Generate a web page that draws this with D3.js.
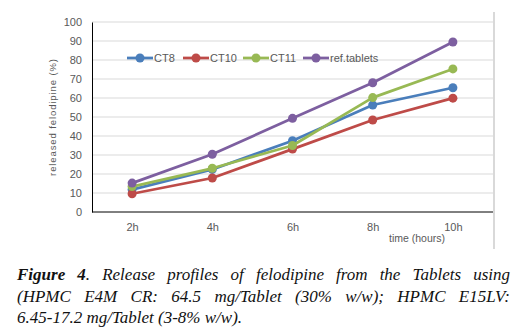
<!DOCTYPE html>
<html>
<head>
<meta charset="utf-8">
<script src="https://cdn.jsdelivr.net/npm/d3@7"></script>
<style>
  body { margin: 0; background: #fff; }
  #wrap { position: relative; width: 519px; height: 331px; }
  #caption {
    position: absolute; left: 17px; top: 264px; width: 493px;
    font-family: "Liberation Serif", "DejaVu Serif", serif;
    font-style: italic; font-size: 17px; line-height: 21.5px;
    color: #111;
  }
  #caption div { text-align: justify; text-align-last: justify; white-space: nowrap; }
  #caption div.last { text-align-last: left; }
</style>
</head>
<body>
<div id="wrap">
  <div id="chart"></div>
  <div id="caption">
    <div><b>Figure 4</b>. Release profiles of felodipine from the Tablets using</div>
    <div>(HPMC E4M CR: 64.5 mg/Tablet (30% w/w); HPMC E15LV:</div>
    <div class="last">6.45-17.2 mg/Tablet (3-8% w/w).</div>
  </div>
</div>
<script>
const times = ['2h', '4h', '6h', '8h', '10h'];
const seriesNames = ['CT8', 'CT10', 'CT11', 'ref.tablets'];
const seriesColors = ['#4a7ebb', '#be4b48', '#98b954', '#7d5fa0'];
const ct8 = [11.8, 22.4, 37.5, 56.3, 65.4];
const ct10 = [9.6, 17.9, 33.1, 48.4, 59.9];
const ct11 = [13.4, 23.0, 35.0, 60.2, 75.3];
const refTablets = [15.2, 30.4, 49.3, 68.0, 89.5];
const yTicks = [0, 10, 20, 30, 40, 50, 60, 70, 80, 90, 100];

const seriesValues = [ct8, ct10, ct11, refTablets];

const width = 519, height = 262;
const margin = { top: 22, right: 26, bottom: 50, left: 92 };

const svg = d3.select('#chart').append('svg')
  .attr('width', width)
  .attr('height', height)
  .style('display', 'block');

const x = d3.scalePoint()
  .domain(times)
  .range([margin.left, width - margin.right])
  .padding(0.5);

const y = d3.scaleLinear()
  .domain([0, 100])
  .range([height - margin.bottom, margin.top]);

// right border of the chart area
svg.append('line')
  .attr('x1', 494).attr('x2', 494)
  .attr('y1', 12).attr('y2', 249)
  .attr('stroke', '#d9d9d9')
  .attr('stroke-width', 2);

// gridlines
svg.append('g')
  .selectAll('line')
  .data(yTicks.slice(1))
  .enter()
  .append('line')
    .attr('x1', margin.left)
    .attr('x2', width - margin.right)
    .attr('y1', d => y(d))
    .attr('y2', d => y(d))
    .attr('stroke', '#d9d9d9')
    .attr('stroke-width', 1);

// y axis
const yAxis = svg.append('g')
  .attr('transform', `translate(${margin.left},0)`)
  .call(d3.axisLeft(y).tickValues(yTicks).tickSize(0).tickPadding(10));
yAxis.select('.domain').attr('stroke', '#000').attr('stroke-width', 1);
yAxis.selectAll('text')
  .attr('font-family', '"Liberation Sans", Arial, sans-serif')
  .attr('font-size', '11px')
  .attr('fill', '#595959');

// x axis
const xAxis = svg.append('g')
  .attr('transform', `translate(0,${y(0)})`)
  .call(d3.axisBottom(x).tickSize(0).tickPadding(11));
xAxis.select('.domain')
  .attr('d', `M${margin.left},0H${width - margin.right}`)
  .attr('stroke', '#000')
  .attr('stroke-width', 1);
xAxis.selectAll('text')
  .attr('font-family', '"Liberation Sans", Arial, sans-serif')
  .attr('font-size', '11px')
  .attr('fill', '#595959');

// axis titles
svg.append('text')
  .attr('transform', `translate(56,${(y(0) + y(100)) / 2}) rotate(-90)`)
  .attr('text-anchor', 'middle')
  .attr('font-family', '"Liberation Sans", Arial, sans-serif')
  .attr('font-size', '9.5px')
  .attr('letter-spacing', '0.9px')
  .attr('fill', '#595959')
  .text('released felodipine (%)');

svg.append('text')
  .attr('x', 417)
  .attr('y', 242)
  .attr('text-anchor', 'middle')
  .attr('font-family', '"Liberation Sans", Arial, sans-serif')
  .attr('font-size', '10.5px')
  .attr('fill', '#595959')
  .text('time (hours)');

// series
const line = d3.line()
  .x((d, i) => x(times[i]))
  .y(d => y(d));

const series = svg.append('g')
  .selectAll('g')
  .data(seriesValues)
  .enter()
  .append('g');

series.append('path')
  .attr('d', d => line(d))
  .attr('fill', 'none')
  .attr('stroke', (d, i) => seriesColors[i])
  .attr('stroke-width', 2.75)
  .attr('stroke-linejoin', 'round');

series.each(function(vals, si) {
  d3.select(this).selectAll('circle')
    .data(vals)
    .enter()
    .append('circle')
      .attr('cx', (d, i) => x(times[i]))
      .attr('cy', d => y(d))
      .attr('r', 4.5)
      .attr('fill', seriesColors[si]);
});

// legend
const legendX = [127, 183, 243, 303];
const legend = svg.append('g')
  .selectAll('g')
  .data(seriesNames)
  .enter()
  .append('g')
    .attr('transform', (d, i) => `translate(${legendX[i]},58)`);

legend.append('line')
  .attr('x1', 0).attr('x2', 26)
  .attr('stroke', (d, i) => seriesColors[i])
  .attr('stroke-width', 2.75);
legend.append('circle')
  .attr('cx', 13)
  .attr('r', 4.5)
  .attr('fill', (d, i) => seriesColors[i]);
legend.append('text')
  .attr('x', 27)
  .attr('dy', '0.35em')
  .attr('font-family', '"Liberation Sans", Arial, sans-serif')
  .attr('font-size', '11px')
  .attr('fill', '#595959')
  .text(d => d);
</script>
</body>
</html>
